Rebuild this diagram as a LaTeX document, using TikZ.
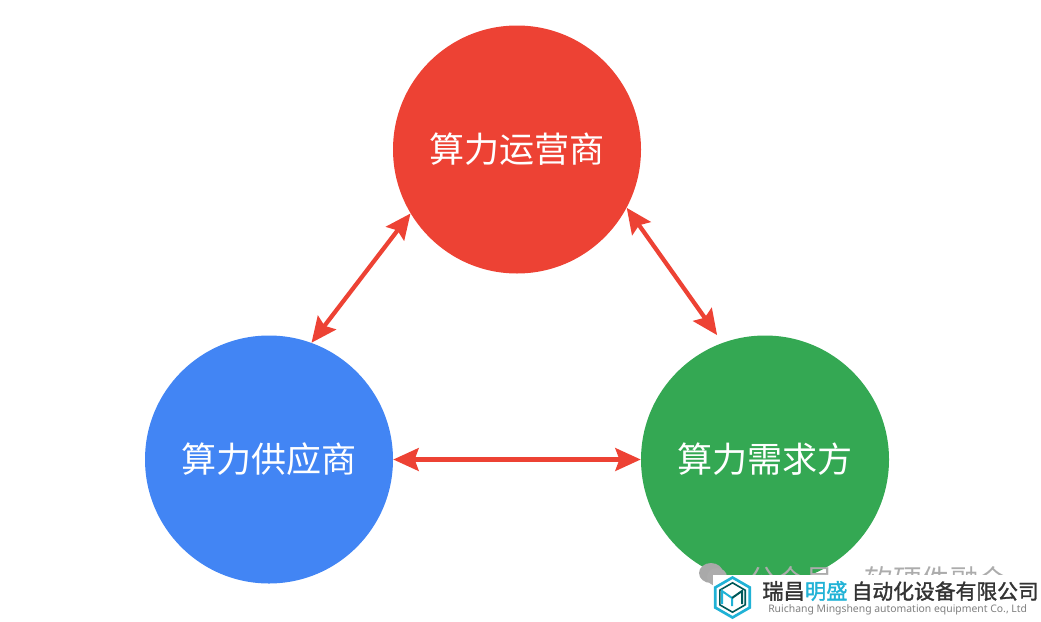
\documentclass[tikz,border=0pt]{standalone}
\usepackage{fontspec}
\setmainfont{Noto Sans CJK SC}
\newfontfamily\latinfont{Noto Sans}
\newfontfamily\logofont[FakeBold=1.5]{Noto Sans CJK SC}
\usetikzlibrary{arrows.meta,positioning,shapes.geometric}
\definecolor{opred}{RGB}{237,66,52}
\definecolor{supblue}{RGB}{66,133,244}
\definecolor{demgreen}{RGB}{52,168,83}
\definecolor{logocyan}{RGB}{32,178,214}
\tikzset{
	party/.style={circle,minimum size=186pt,inner sep=0pt,text=white,font=\fontsize{26.3pt}{30pt}\selectfont},
	link/.style={opred,line width=3.2pt,{Stealth[length=19pt,width=17pt,inset=3pt]}-{Stealth[length=19pt,width=17pt,inset=3pt]}},
}
\begin{document}
\begin{tikzpicture}[x=0.75pt,y=0.75pt,yscale=-1,xscale=1]
	\useasboundingbox (0,0) rectangle (1041,621);

	% Circles
	\node[party,fill=opred] (operator) at (517,149.5) {\raisebox{-1.5pt}{算力运营商}};
	\node[party,fill=supblue] (supplier) at (269,459.5) {\raisebox{-1.5pt}{算力供应商}};
	\node[party,fill=demgreen] (demand) at (765,459.5) {\raisebox{-1.5pt}{算力需求方}};

	% Double arrows
	\draw[link] (operator.211) -- (supplier.70);
	\draw[link,shorten >=7pt] (operator.-28) -- (demand.110);
	\draw[link] (supplier.0) -- (demand.180);

	% Watermark
	\node[gray!65,font=\fontsize{21.4pt}{24pt}\selectfont,anchor=west,inner sep=0pt] (mark) at (748,580) {公众号\hspace{23pt}软硬件融合};
	\fill[gray!65!black!50] (711,573) ellipse (12 and 10);
	\fill[gray!65] (717,577) ellipse (10 and 9);

	% Logo band
	\fill[white] (713,575) rectangle (1041,621);
	\node[regular polygon,regular polygon sides=6,shape border rotate=90,minimum size=30pt,line width=2pt,draw=logocyan,inner sep=0pt] (hexa) at (732.5,597.5) {};
	\node[regular polygon,regular polygon sides=6,shape border rotate=90,minimum size=22pt,line width=1.2pt,draw=teal!70!black,inner sep=0pt] (hexb) at (hexa) {};
	\draw[logocyan,line width=1.5pt] (722,604) -- (722,591) -- (732,598) -- (732,606);
	\draw[teal!70!black,line width=1.5pt] (732,598) -- (742,591) -- (742,604);

	% Logo text
	\node[anchor=west,inner sep=0pt,text=black!80,font=\logofont\fontsize{16pt}{18pt}\selectfont] (company) at (762,591) {瑞昌\textcolor{logocyan}{明盛}\hspace{3pt}{\fontsize{15.6pt}{18pt}\selectfont 自动化设备有限公司}};
	\node[anchor=west,inner sep=0pt,gray,font=\latinfont\fontsize{7.8pt}{10pt}\selectfont] (english) at (768,610) {Ruichang Mingsheng automation equipment Co., Ltd};
\end{tikzpicture}
\end{document}
